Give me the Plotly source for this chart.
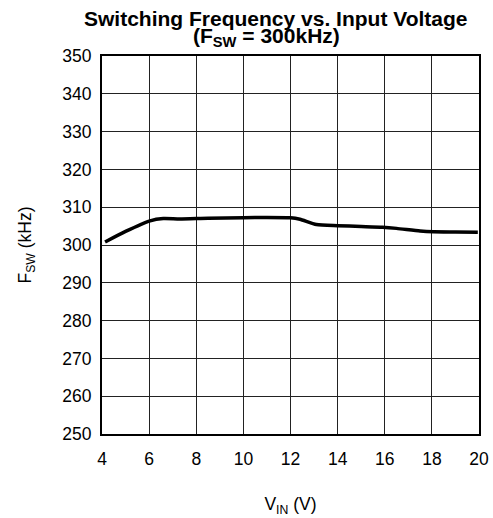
import plotly.graph_objects as go

vin = [4.13, 5.0, 6.04, 6.6, 7.3, 8.5, 10.0, 11.0, 12.0, 12.4, 13.1, 14.0, 15.0, 15.9, 16.5, 17.5, 18.06, 19.0, 19.95]
fsw = [300.8, 303.6, 306.4, 307.0, 306.9, 307.1, 307.2, 307.3, 307.2, 306.8, 305.4, 305.1, 304.9, 304.7, 304.4, 303.7, 303.5, 303.45, 303.4]

x_ticks = [4, 6, 8, 10, 12, 14, 16, 18, 20]
y_ticks = [250, 260, 270, 280, 290, 300, 310, 320, 330, 340, 350]

FONT = "Liberation Sans, Arial, sans-serif"
T, B, L, R = 56, 84, 102, 14
PLOT_H = 518 - T - B
PLOT_W = 493 - L - R

fig = go.Figure()
fig.add_trace(go.Scatter(x=vin, y=fsw, mode="lines",
                         line=dict(color="black", width=3.5, shape="spline", smoothing=0.6),
                         showlegend=False, hoverinfo="skip"))

fig.update_layout(
    width=493, height=518,
    margin=dict(l=L, r=R, t=T, b=B, autoexpand=False),
    paper_bgcolor="white", plot_bgcolor="white",
    font=dict(family=FONT, size=17.5, color="black"),
    annotations=[
        dict(text="<b>Switching Frequency vs. Input Voltage</b>", xref="paper", yref="paper",
             x=(275.5 - L) / PLOT_W, y=1 + (T - 18) / PLOT_H, xanchor="center", yanchor="middle",
             showarrow=False, font=dict(size=21, family=FONT)),
        dict(text="<b>(F<sub>SW</sub> = 300kHz)</b>", xref="paper", yref="paper",
             x=(266.5 - L) / PLOT_W, y=1 + (T - 37) / PLOT_H, xanchor="center", yanchor="middle",
             showarrow=False, font=dict(size=21, family=FONT)),
    ],
    xaxis=dict(range=[4, 20], tickmode="array", tickvals=x_ticks,
               ticktext=[str(v) for v in x_ticks], automargin=False,
               showgrid=True, gridcolor="#222", gridwidth=1,
               showline=True, linecolor="black", linewidth=2, mirror=True,
               ticks="outside", ticklen=8, tickcolor="rgba(0,0,0,0)", zeroline=False,
               title=dict(text="V<sub>IN</sub> (V)", standoff=30, font=dict(size=17.5))),
    yaxis=dict(range=[250, 350], tickmode="array", tickvals=y_ticks,
               ticktext=[str(v) for v in y_ticks], automargin=False,
               showgrid=True, gridcolor="#222", gridwidth=1,
               showline=True, linecolor="black", linewidth=2, mirror=True,
               ticks="outside", ticklen=5, tickcolor="rgba(0,0,0,0)", zeroline=False,
               title=dict(text="F<sub>SW</sub> (kHz)", standoff=26, font=dict(size=17.5))),
)

fig.write_html("out.html", config={"displayModeBar": False},
               post_script="document.body.style.margin='0';")
